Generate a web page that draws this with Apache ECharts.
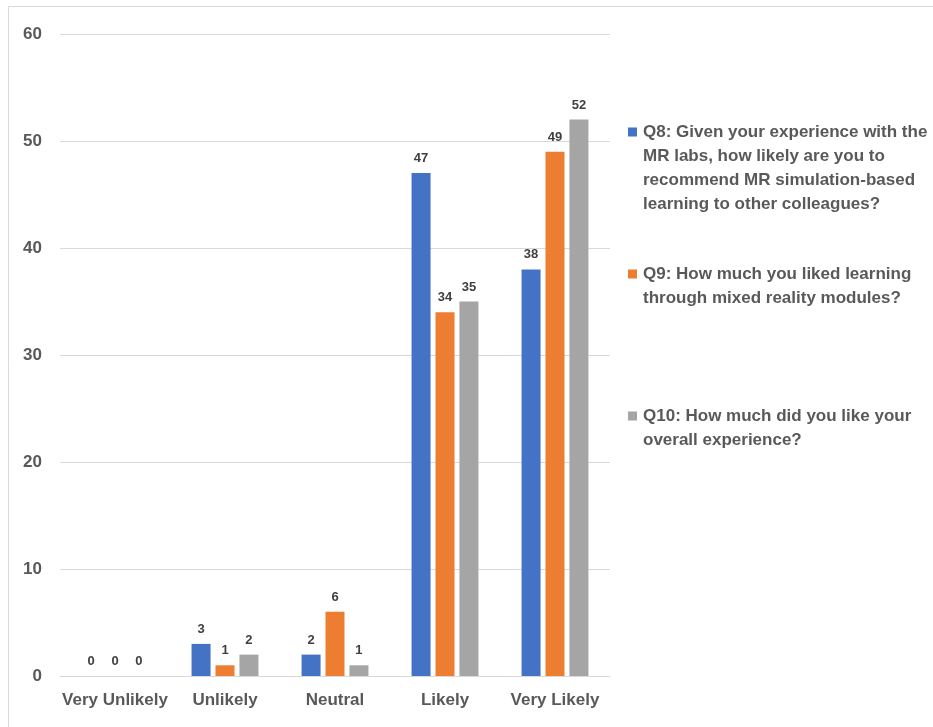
<!DOCTYPE html>
<html>
<head>
<meta charset="utf-8">
<script src="https://cdn.jsdelivr.net/npm/echarts@6/dist/echarts.min.js"></script>
<style>html,body{margin:0;padding:0;background:#fff}#c{width:933px;height:727px}</style>
</head>
<body>
<div id="c"></div>
<script>
const categories = ['Very Unlikely', 'Unlikely', 'Neutral', 'Likely', 'Very Likely'];
const seriesNames = [
  'Q8: Given your experience with the MR labs, how likely are you to recommend MR simulation-based learning to other colleagues?',
  'Q9: How much you liked learning through mixed reality modules?',
  'Q10: How much did you like your overall experience?'
];
const legendLines = [
  ['Q8: Given your experience with the', 'MR labs, how likely are you to', 'recommend MR simulation-based', 'learning to other colleagues?'],
  ['Q9: How much you liked learning', 'through mixed reality modules?'],
  ['Q10: How much did you like your', 'overall experience?']
];
const q8Values = [0, 3, 2, 47, 38];
const q9Values = [0, 1, 6, 34, 49];
const q10Values = [0, 2, 1, 35, 52];
const yTicks = [0, 10, 20, 30, 40, 50, 60];

const colors = ['#4472C4', '#ED7D31', '#A5A5A5'];
const valuesList = [q8Values, q9Values, q10Values];
const FONT = 'Liberation Sans';
const LH = 24;
const SQ = 9;
const legendTops = [120, 262, 404];

const chart = echarts.init(document.getElementById('c'), null, {renderer: 'canvas'});
const legends = seriesNames.map((name, i) => {
  const n = legendLines[i].length;
  const h = (n - 1) * LH + SQ;
  // square at top of icon box, so it sits beside the first text line
  const iconPath = 'path://M0,0H' + SQ + 'V' + SQ + 'H0ZM0,' + h + 'L0.001,' + h;
  return {
    left: 628,
    top: legendTops[i],
    orient: 'vertical',
    padding: 0,
    selectedMode: false,
    itemWidth: SQ,
    itemHeight: h,
    itemGap: 0,
    data: [{name: name, icon: iconPath}],
    formatter: () => legendLines[i].join('\n'),
    textStyle: {
      fontFamily: FONT, fontWeight: 'bold', fontSize: 17, color: '#595959',
      lineHeight: LH, padding: [0, 0, 0, 1]
    }
  };
});

chart.setOption({
  animation: false,
  backgroundColor: '#fff',
  graphic: [{
    type: 'rect', shape: {x: 8.5, y: 6.5, width: 1000, height: 1000},
    style: {fill: 'none', stroke: '#d9d9d9', lineWidth: 1}, silent: true, z: -1
  }],
  legend: legends,
  grid: {left: 60, right: 323, top: 34, bottom: 51, containLabel: false},
  xAxis: {
    type: 'category',
    data: categories,
    axisTick: {show: false},
    axisLine: {lineStyle: {color: '#d9d9d9', width: 1}},
    axisLabel: {interval: 0, fontFamily: FONT, fontWeight: 'bold', fontSize: 17, color: '#595959', margin: 16}
  },
  yAxis: {
    type: 'value',
    min: yTicks[0], max: yTicks[yTicks.length - 1], interval: 10,
    axisLine: {show: false},
    axisTick: {show: false},
    splitLine: {lineStyle: {color: '#d9d9d9', width: 1}},
    axisLabel: {fontFamily: FONT, fontWeight: 'bold', fontSize: 17, color: '#595959', margin: 18}
  },
  series: seriesNames.map((name, i) => ({
    name: name,
    type: 'bar',
    data: valuesList[i],
    barWidth: 19,
    barGap: '26%',
    itemStyle: {color: colors[i]},
    label: {
      show: true, position: 'top', distance: 8,
      fontFamily: FONT, fontWeight: 'bold', fontSize: 13, color: '#404040'
    }
  }))
});
</script>
</body>
</html>
